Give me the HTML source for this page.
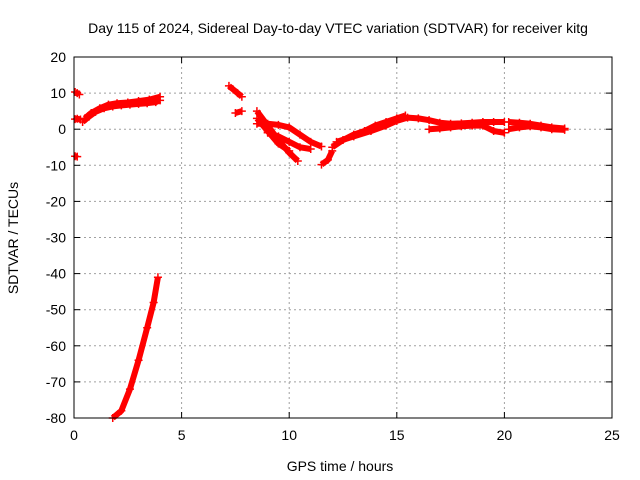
<!DOCTYPE html>
<html><head><meta charset="utf-8"><style>
body{margin:0;background:#fff;}
svg{display:block;font-family:"Liberation Sans","DejaVu Sans",sans-serif;}
</style></head><body>
<svg id="chart" width="640" height="480" viewBox="0 0 640 480">
<rect x="0" y="0" width="640" height="480" fill="#fff"/>
<text x="338" y="33" font-size="14" text-anchor="middle" fill="#000">Day 115 of 2024, Sidereal Day-to-day VTEC variation (SDTVAR) for receiver kitg</text>
<text x="340" y="471" font-size="14" text-anchor="middle">GPS time / hours</text>
<text transform="translate(18,238) rotate(-90)" font-size="14" text-anchor="middle">SDTVAR / TECUs</text>
<g id="grid"></g><g id="ticks"></g><g id="marks"></g>
<rect x="74" y="57" width="538" height="361" fill="none" stroke="#000" stroke-width="1"/>
</svg>
<script>
const xTicks=[0,5,10,15,20,25];
const yTicks=[20,10,0,-10,-20,-30,-40,-50,-60,-70,-80];
const trackA=[[0.05,10.3],[0.15,10],[0.25,9.6]];
const trackB=[[0.05,2.8],[0.15,2.9],[0.3,2.7]];
const trackC=[[0.05,-7.5],[0.15,-7.6]];
const trackD=[[0.4,2],[0.7,3.5],[1,4.8],[1.4,5.8],[1.8,6.3],[2.2,6.6],[2.6,6.8],[3,7],[3.4,7.2],[3.8,7.5],[4,8]];
const trackE=[[0.5,3],[0.8,4.5],[1.2,5.8],[1.6,6.8],[2,7.2],[2.5,7.4],[3,7.8],[3.5,8.2],[4,9]];
const trackF=[[1.8,-80],[2.2,-78],[2.6,-72],[3.0,-64],[3.4,-55],[3.7,-48],[3.9,-41]];
const trackG=[[7.2,12],[7.4,11],[7.6,10],[7.8,9]];
const trackH=[[7.5,4.5],[7.8,5]];
const trackI=[[8.5,5],[9,1],[9.5,-3],[10,-6.5],[10.4,-8.8]];
const trackJ=[[8.5,3],[9,-0.5],[9.5,-4],[10,-6]];
const trackK=[[8.5,1.5],[9,1.5],[9.5,1.2],[10,0.5],[10.5,-1.5],[11,-3.5],[11.5,-4.8]];
const trackL=[[9,-1],[9.5,-2],[10,-3.5],[10.5,-5],[11,-5.5]];
const trackM=[[11.5,-9.8],[11.8,-8.5],[12,-6]];
const trackN=[[12,-5],[12.5,-3],[13,-1.5],[13.5,-0.5],[14,1],[14.5,2],[15,3],[15.4,3.8]];
const trackO=[[12.2,-3.5],[13,-2],[13.8,-0.5],[14.5,1],[15,2.3],[15.5,3.2],[16,3],[16.5,2.5],[17,1.8],[17.5,1.5],[18,1.6],[18.5,1.8],[19,2],[19.5,2],[20,2]];
const trackP=[[16.5,0],[17,0.2],[17.5,0.5],[18,0.8],[18.5,1],[19,1],[19.5,-0.5],[20,-1]];
const trackQ=[[20.2,2],[20.7,1.8],[21.2,1.5],[21.7,1],[22.2,0.5],[22.8,0.2]];
const trackR=[[20.2,0],[20.7,0.5],[21.2,0.8],[21.7,0.5],[22.2,0],[22.8,-0.2]];
const tracks=[trackA,trackB,trackC,trackD,trackE,trackF,trackG,trackH,trackI,trackJ,trackK,trackL,trackM,trackN,trackO,trackP,trackQ,trackR];
const X0=74,X1=612,Y0=57,Y1=418;
function xs(t){return X0+(t-0)/(25-0)*(X1-X0);}
function ys(v){return Y0+(20-v)/(20-(-80))*(Y1-Y0);}
const NS="http://www.w3.org/2000/svg";
function mk(tag,attrs,parent){const e=document.createElementNS(NS,tag);for(const k in attrs)e.setAttribute(k,attrs[k]);parent.appendChild(e);return e;}
const grid=document.getElementById('grid'),ticks=document.getElementById('ticks'),marks=document.getElementById('marks');
xTicks.forEach(t=>{const x=xs(t);
 if(t>0&&t<25){const g=mk('line',{x1:x,x2:x,y1:Y0,y2:Y1,stroke:'#a0a0a0','stroke-dasharray':'2,3'},grid);
 
 }
 const l=mk('text',{x:x,y:Y1+22,'font-size':14,'text-anchor':'middle'},ticks);l.textContent=t;
 
 
 mk('line',{x1:x,x2:x,y1:Y1,y2:Y1-6,stroke:'#000'},ticks);mk('line',{x1:x,x2:x,y1:Y0,y2:Y0+6,stroke:'#000'},ticks);});
yTicks.forEach(v=>{const y=ys(v);
 if(v<20&&v>-80){const g=mk('line',{x1:X0,x2:X1,y1:y,y2:y,stroke:'#a0a0a0','stroke-dasharray':'2,3'},grid);
 
 }
 const l=mk('text',{x:X0-8,y:y+5,'font-size':14,'text-anchor':'end'},ticks);l.textContent=v;
 
 
 mk('line',{x1:X0,x2:X0+6,y1:y,y2:y,stroke:'#000'},ticks);mk('line',{x1:X1,x2:X1-6,y1:y,y2:y,stroke:'#000'},ticks);});
tracks.forEach(tr=>{
 const pl=mk('polyline',{points:tr.map(p=>xs(p[0])+','+ys(p[1])).join(' '),fill:'none',stroke:'#f00','stroke-width':6,'stroke-linejoin':'round'},marks);
 
 
 tr.forEach(p=>{const x=xs(p[0]),y=ys(p[1]);
  const m=mk('path',{d:`M${x-4},${y}H${x+4}M${x},${y-4}V${y+4}`,stroke:'#f00','stroke-width':1.5},marks);
  
  });
});
</script>
</body></html>
